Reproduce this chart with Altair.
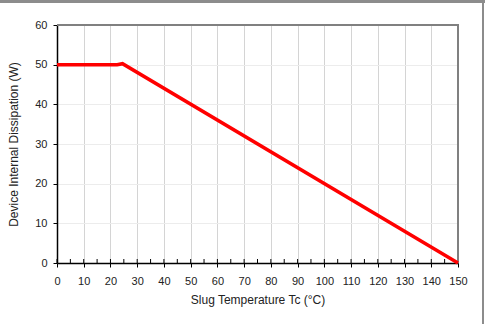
import altair as alt
import pandas as pd

# Power derating curve: dissipation vs. slug temperature
temp_c = [0, 22.5, 24.5, 150]
power_w = [50, 50, 50.25, 0]

minor_ticks = [5 * i for i in range(31)]

curve = pd.DataFrame({"t": temp_c, "p": power_w})
ticks = pd.DataFrame({"t": minor_ticks})

FONT = "Liberation Sans"

x_scale = alt.Scale(domain=[0, 150], nice=False, zero=False)
y_scale = alt.Scale(domain=[0, 60], nice=False)

x_axis = alt.Axis(
    title="Slug Temperature Tc (°C)",
    values=list(range(0, 151, 10)),
    labelOverlap=False, labelFlush=False,
    grid=True, gridColor="#d4d4d4", gridWidth=1,
    domainColor="#000000", domainWidth=1.5,
    tickColor="#000000", tickSize=4, tickWidth=1,
    labelFont=FONT, labelFontSize=11, labelColor="#222222", labelPadding=8,
    titleFont=FONT, titleFontSize=12, titleFontWeight="normal",
    titleColor="#222222", titlePadding=8,
)
y_axis = alt.Axis(
    title="Device Internal Dissipation (W)",
    values=list(range(0, 61, 10)),
    labelOverlap=False, labelFlush=False,
    grid=True, gridColor="#ececec", gridWidth=1,
    domainColor="#000000", domainWidth=1.5,
    tickColor="#000000", tickSize=4, tickWidth=1,
    labelFont=FONT, labelFontSize=11, labelColor="#222222", labelPadding=6,
    titleFont=FONT, titleFontSize=12, titleFontWeight="normal",
    titleColor="#222222", titlePadding=14,
)

line = alt.Chart(curve).mark_line(color="#ff0000", strokeWidth=3.5, clip=False).encode(
    x=alt.X("t:Q", scale=x_scale, axis=x_axis),
    y=alt.Y("p:Q", scale=y_scale, axis=y_axis),
)

# small inward ticks on the x axis every 5 degrees
minor = alt.Chart(ticks).mark_rule(color="#000000", strokeWidth=1).encode(
    x=alt.X("t:Q", scale=x_scale, axis=x_axis),
    y=alt.value(234),
    y2=alt.value(238),
)

# plot-area border (top and right edges)
plot_top = alt.Chart(ticks).mark_rule(color="#808080", strokeWidth=1.5, clip=False).encode(
    x=alt.value(0), x2=alt.value(401.5), y=alt.value(0)
)
plot_right = alt.Chart(ticks).mark_rule(color="#808080", strokeWidth=1.5, clip=False).encode(
    x=alt.value(401), y=alt.value(0), y2=alt.value(238)
)

# outer frame (top and right edges)
frame_top = alt.Chart(ticks).mark_rule(color="#8c8c8c", strokeWidth=2, clip=False).encode(
    x=alt.value(-58), x2=alt.value(428), y=alt.value(-23.5)
)
frame_right = alt.Chart(ticks).mark_rule(color="#8c8c8c", strokeWidth=2, clip=False).encode(
    x=alt.value(426), y=alt.value(-24), y2=alt.value(300)
)

chart = (
    alt.layer(minor, plot_top, plot_right, line, frame_top, frame_right)
    .properties(
        width=401,
        height=238,
        autosize=alt.AutoSizeParams(type="none"),
        padding={"left": 57, "top": 25, "right": 28, "bottom": 61},
    )
    .configure_view(stroke="#808080", strokeWidth=1.5)
    .configure(background="#ffffff")
)

chart.save("out.html", embed_options={"renderer": "svg", "actions": False})
